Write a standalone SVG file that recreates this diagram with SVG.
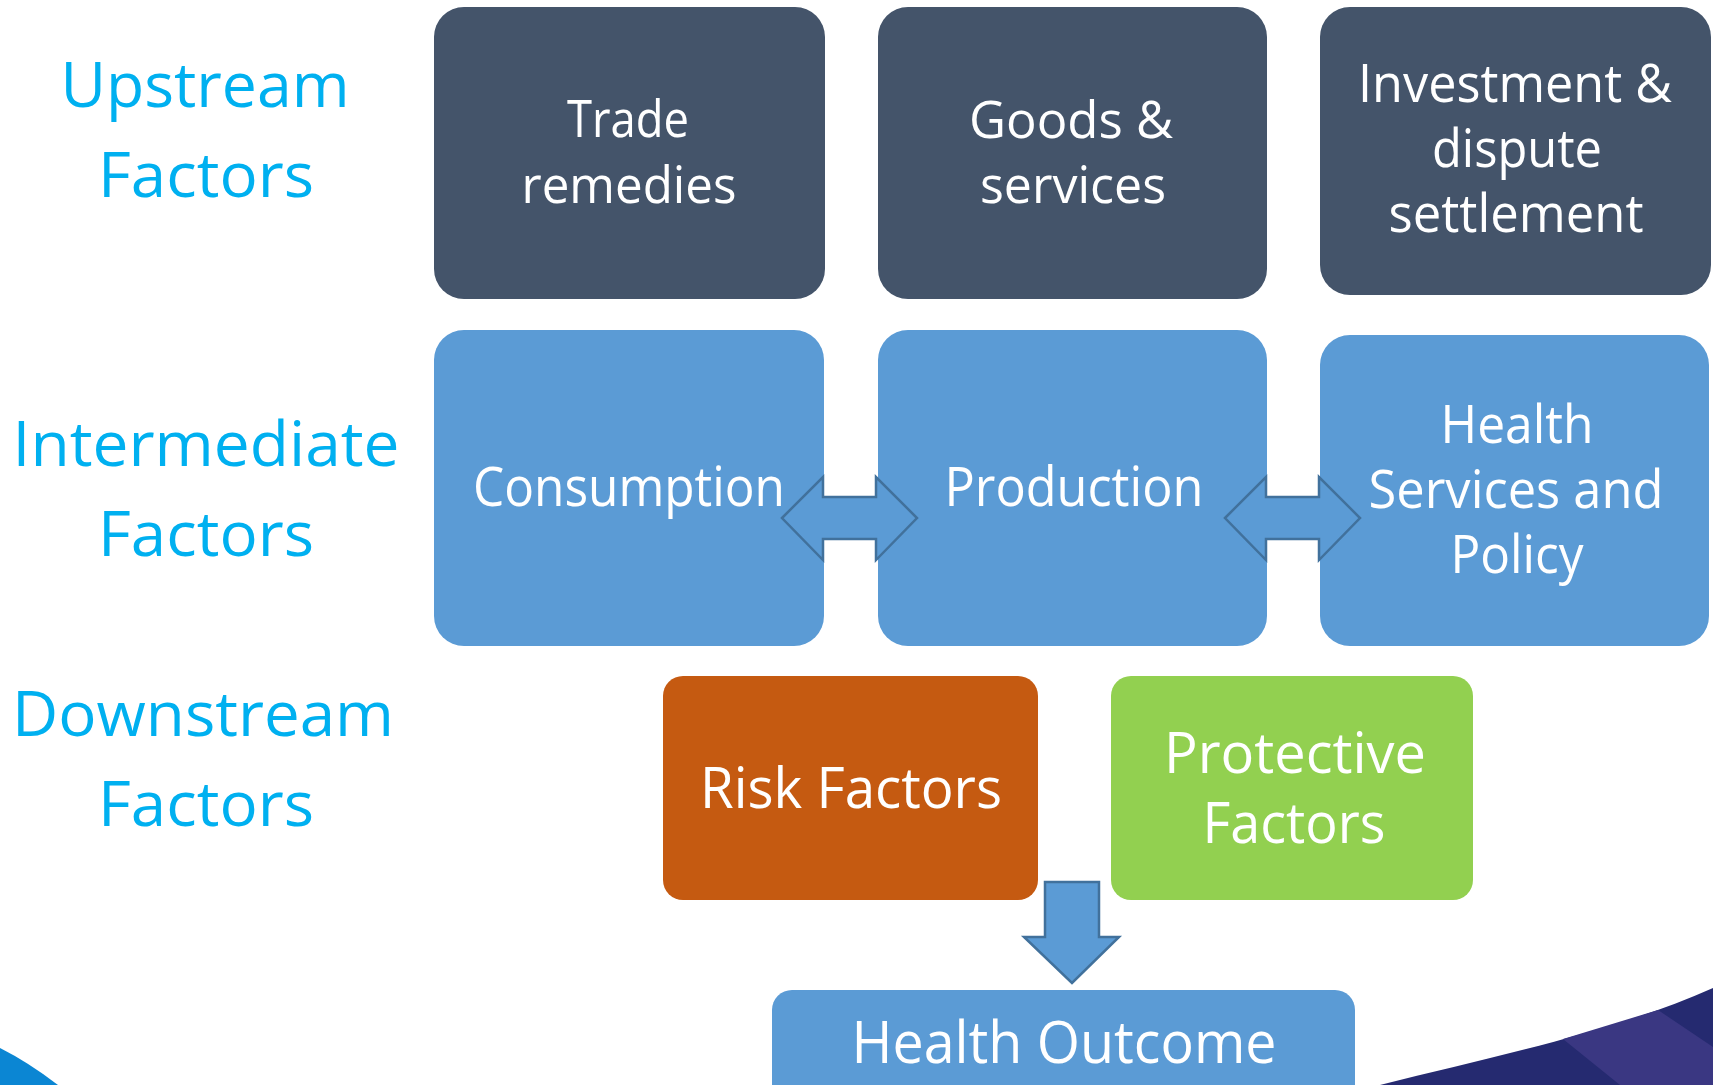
<svg xmlns="http://www.w3.org/2000/svg" width="1713" height="1085" viewBox="0 0 1713 1085">
<style>
.lbl{font-family:"Open Sans","Liberation Sans",sans-serif;font-size:63px;fill:#00B0F0;text-anchor:middle}
.bt{font-family:"Open Sans","Liberation Sans",sans-serif;fill:#FFFFFF;text-anchor:middle}
.dark{fill:#44546A}
.blue{fill:#5B9BD5}
.arr{fill:#5B9BD5;stroke:#41719C;stroke-width:2.5;stroke-linejoin:miter}
</style>
<rect width="1713" height="1085" fill="#FFFFFF"/>
<g id="decor">
<path d="M0,1048 Q28,1062 58,1085 L0,1085 Z" fill="#0B86D3"/>
<path d="M1380,1085 C1500,1055 1620,1030 1713,988 L1713,1085 Z" fill="#252A70"/>
<path d="M1563,1039 L1658,1010 L1713,1047 L1713,1085 L1620,1085 Z" fill="#3A3782"/>
</g>
<g id="labels">
<text class="lbl" x="205" y="107" textLength="289" lengthAdjust="spacingAndGlyphs">Upstream</text>
<text class="lbl" x="206" y="197" textLength="216" lengthAdjust="spacingAndGlyphs">Factors</text>
<text class="lbl" x="206" y="466" textLength="387" lengthAdjust="spacingAndGlyphs">Intermediate</text>
<text class="lbl" x="206" y="556" textLength="216" lengthAdjust="spacingAndGlyphs">Factors</text>
<text class="lbl" x="203" y="736" textLength="382" lengthAdjust="spacingAndGlyphs">Downstream</text>
<text class="lbl" x="206" y="826" textLength="216" lengthAdjust="spacingAndGlyphs">Factors</text>
</g>
<g id="trade">
<rect class="dark" x="434" y="7" width="391" height="292" rx="30"/>
<text class="bt" font-size="52" x="628" y="137" textLength="122" lengthAdjust="spacingAndGlyphs">Trade</text>
<text class="bt" font-size="52" x="629" y="203" textLength="215" lengthAdjust="spacingAndGlyphs">remedies</text>
</g>
<g id="goods">
<rect class="dark" x="878" y="7" width="389" height="292" rx="30"/>
<text class="bt" font-size="52" x="1071" y="138" textLength="204" lengthAdjust="spacingAndGlyphs">Goods &amp;</text>
<text class="bt" font-size="52" x="1073" y="203" textLength="186" lengthAdjust="spacingAndGlyphs">services</text>
</g>
<g id="investment">
<rect class="dark" x="1320" y="7" width="391" height="288" rx="30"/>
<text class="bt" font-size="53" x="1515" y="102" textLength="314" lengthAdjust="spacingAndGlyphs">Investment &amp;</text>
<text class="bt" font-size="53" x="1517" y="167" textLength="170" lengthAdjust="spacingAndGlyphs">dispute</text>
<text class="bt" font-size="53" x="1516" y="232" textLength="255" lengthAdjust="spacingAndGlyphs">settlement</text>
</g>
<g id="consumption">
<rect class="blue" x="434" y="330" width="390" height="316" rx="30"/>
<text class="bt" font-size="54" x="629" y="506" textLength="312" lengthAdjust="spacingAndGlyphs">Consumption</text>
</g>
<g id="production">
<rect class="blue" x="878" y="330" width="389" height="316" rx="30"/>
<text class="bt" font-size="54" x="1074" y="506" textLength="259" lengthAdjust="spacingAndGlyphs">Production</text>
</g>
<g id="health-services">
<rect class="blue" x="1320" y="335" width="389" height="311" rx="30"/>
<text class="bt" font-size="53" x="1517" y="443" textLength="153" lengthAdjust="spacingAndGlyphs">Health</text>
<text class="bt" font-size="53" x="1516" y="508" textLength="295" lengthAdjust="spacingAndGlyphs">Services  and</text>
<text class="bt" font-size="53" x="1517" y="573" textLength="133" lengthAdjust="spacingAndGlyphs">Policy</text>
</g>
<g id="risk">
<rect x="663" y="676" width="375" height="224" rx="20" fill="#C55A11"/>
<text class="bt" font-size="57" x="851" y="808" textLength="302" lengthAdjust="spacingAndGlyphs">Risk Factors</text>
</g>
<g id="protective">
<rect x="1111" y="676" width="362" height="224" rx="20" fill="#92D050"/>
<text class="bt" font-size="56" x="1295" y="773" textLength="262" lengthAdjust="spacingAndGlyphs">Protective</text>
<text class="bt" font-size="56" x="1294" y="843" textLength="183" lengthAdjust="spacingAndGlyphs">Factors</text>
</g>
<g id="outcome">
<rect class="blue" x="772" y="990" width="583" height="130" rx="20"/>
<text class="bt" font-size="59" x="1064" y="1063" textLength="425" lengthAdjust="spacingAndGlyphs">Health Outcome</text>
</g>
<g id="connectors">
<polygon class="arr" points="782,518 823,477 823,497 876,497 876,477 917,518 876,560 876,539 823,539 823,560"/>
<polygon class="arr" points="1225,518 1266,477 1266,497 1319,497 1319,477 1360,518 1319,560 1319,539 1266,539 1266,560"/>
<polygon class="arr" points="1045,882 1099,882 1099,937 1119,937 1072,983 1024,937 1045,937"/>
</g>
</svg>
